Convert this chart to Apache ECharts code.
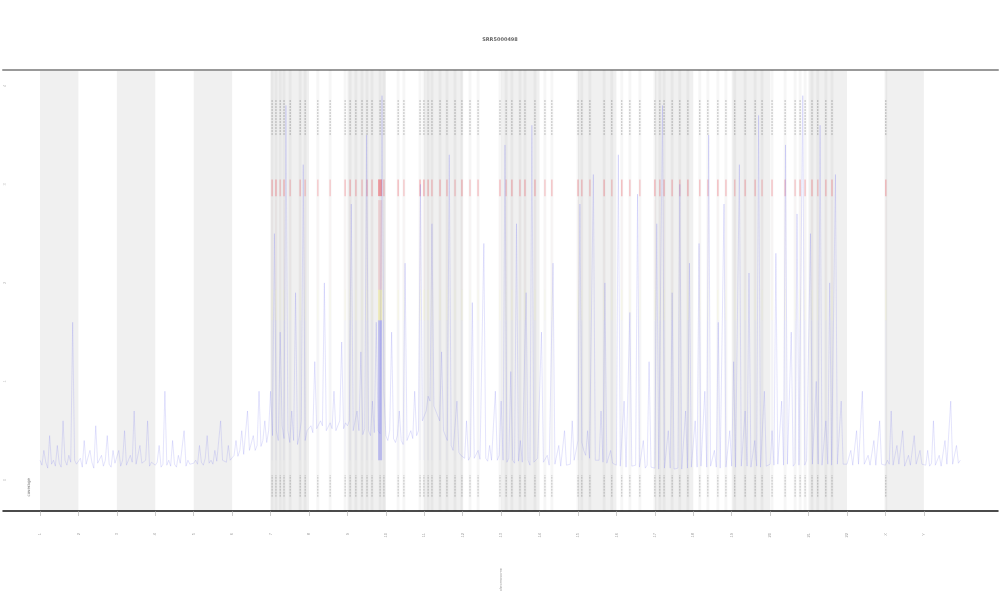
<!DOCTYPE html>
<html><head><meta charset="utf-8">
<script src="https://cdn.jsdelivr.net/npm/echarts@6/dist/echarts.min.js"></script>
<style>html,body{margin:0;padding:0;background:#fff}#c{width:1000px;height:600px}</style>
</head><body><div id="c"></div>
<script>
// chromosome labels (one per tick)
const chromLabels = ['1','2','3','4','5','6','7','8','9','10','11','12','13','14','15','16','17','18','19','20','21','22','X','Y'];
const yTickValues = [0, 1, 2, 3, 4];
const yTickLabels = ['0', '1', '2', '3', '4'];
// coverage trace, 20 samples per chromosome
const cov = [
 [0.2,0.15,0.3,0.18,0.12,0.45,0.16,0.2,0.14,0.35,0.17,0.13,0.6,0.2,0.15,0.25,0.18,1.6,0.2,0.16],
 [0.15,0.22,0.13,0.4,0.16,0.14,0.3,0.18,0.12,0.55,0.17,0.15,0.25,0.14,0.2,0.45,0.16,0.13,0.3,0.17],
 [0.16,0.3,0.14,0.2,0.5,0.15,0.13,0.25,0.18,0.7,0.16,0.14,0.35,0.17,0.15,0.2,0.6,0.14,0.18,0.16],
 [0.15,0.18,0.35,0.13,0.16,0.9,0.15,0.2,0.14,0.4,0.16,0.13,0.25,0.17,0.15,0.5,0.14,0.2,0.16,0.18],
 [0.17,0.2,0.16,0.35,0.18,0.15,0.22,0.45,0.17,0.2,0.16,0.3,0.19,0.18,0.6,0.2,0.22,0.18,0.35,0.2],
 [0.22,0.25,0.4,0.24,0.3,0.5,0.26,0.28,0.7,0.3,0.32,0.45,0.3,0.35,0.9,0.34,0.4,0.6,0.38,0.5],
 [0.9,0.45,2.5,0.5,0.4,1.5,0.55,0.42,3.8,0.5,0.38,0.7,0.4,1.9,0.36,0.45,0.6,3.2,0.4,0.5],
 [0.5,0.55,0.48,1.2,0.52,0.5,0.6,0.55,2.0,0.5,0.48,0.58,0.52,0.9,0.5,0.55,0.6,1.4,0.52,0.58],
 [0.55,0.6,2.8,0.5,0.48,0.7,0.5,1.3,0.46,0.52,3.5,0.5,0.45,0.8,0.48,1.6,0.5,0.47,3.9,0.9],
 [0.45,0.4,0.5,1.5,0.42,0.38,0.45,0.7,0.4,0.36,2.2,0.4,0.38,0.5,0.42,0.9,0.45,0.5,3.0,0.6],
 [0.6,0.7,0.85,0.8,2.6,0.75,0.7,0.65,0.6,1.3,0.5,0.45,0.4,3.3,0.35,0.3,0.32,0.8,0.28,0.25],
 [0.25,0.22,0.6,0.2,0.24,1.8,0.22,0.2,0.3,0.21,0.2,2.4,0.22,0.19,0.35,0.2,0.22,0.9,0.2,0.25],
 [0.8,0.2,3.4,0.18,0.22,1.1,0.2,0.17,2.6,0.19,0.4,0.18,0.16,1.9,0.2,0.15,3.6,0.18,0.2,0.22],
 [0.2,1.5,0.18,0.16,0.25,0.15,0.14,2.2,0.16,0.18,0.35,0.14,0.13,0.5,0.15,0.14,0.16,0.6,0.2,0.3],
 [0.4,2.8,0.38,0.3,0.25,0.5,0.22,0.2,3.1,0.2,0.18,0.2,0.7,0.18,2.0,0.17,0.19,0.3,0.17,0.16],
 [0.15,3.3,0.14,0.16,0.8,0.13,0.15,1.7,0.14,0.12,0.15,2.9,0.13,0.14,0.4,0.12,0.15,1.2,0.13,0.14],
 [0.12,2.6,0.11,0.13,3.8,0.12,0.1,0.5,0.12,1.9,0.11,0.13,0.12,3.0,0.11,0.1,0.7,0.12,2.2,0.13],
 [0.14,0.6,0.13,2.4,0.14,0.12,0.9,0.13,3.5,0.14,0.12,0.3,0.13,1.6,0.12,0.14,2.8,0.13,0.15,0.5],
 [0.14,1.2,0.13,0.15,3.2,0.14,0.13,0.7,0.14,2.1,0.13,0.15,0.4,0.14,3.7,0.13,0.15,0.9,0.14,0.16],
 [0.16,0.5,0.15,2.3,0.16,0.14,0.8,0.15,3.4,0.16,0.15,1.5,0.14,0.17,2.7,0.15,0.16,3.9,0.15,0.2],
 [0.18,2.5,0.16,0.15,1.0,0.16,3.6,0.15,0.17,0.6,0.16,2.0,0.15,0.17,3.1,0.16,0.15,0.8,0.16,0.17],
 [0.16,0.18,0.3,0.15,0.17,0.5,0.16,0.15,0.9,0.16,0.17,0.25,0.15,0.16,0.4,0.15,0.17,0.6,0.16,0.15],
 [0.15,0.2,0.16,0.7,0.15,0.14,0.35,0.16,0.15,0.5,0.14,0.16,0.25,0.15,0.14,0.45,0.16,0.15,0.3,0.16],
 [0.16,0.15,0.3,0.14,0.17,0.6,0.15,0.16,0.25,0.14,0.15,0.4,0.16,0.15,0.8,0.16,0.14,0.35,0.17,0.2]
];
// event positions (genome units) and strength
const eventPos = [6.04,6.14,6.25,6.35,6.51,6.77,6.90,7.23,7.55,7.94,8.07,8.22,8.38,8.51,8.64,8.85,8.95,9.32,9.47,9.89,9.99,10.10,10.20,10.41,10.59,10.80,10.98,11.19,11.40,11.97,12.13,12.28,12.49,12.62,12.88,13.14,13.32,14.00,14.10,14.31,14.68,14.88,15.14,15.35,15.61,16.00,16.13,16.24,16.45,16.65,16.86,17.17,17.38,17.64,17.85,18.08,18.35,18.61,18.79,19.05,19.39,19.65,19.78,19.91,20.09,20.24,20.45,20.61,22.01];
const eventStrength = [0.5,0.6,0.3,0.5,0.3,0.4,0.3,0.3,0.3,0.4,0.5,0.4,0.3,0.5,0.4,1.0,0.4,0.5,0.3,0.6,0.6,0.5,0.4,0.5,0.4,0.3,0.5,0.3,0.4,0.5,0.3,0.5,0.4,0.5,0.5,0.3,0.4,0.5,0.4,0.3,0.5,0.3,0.5,0.4,0.3,0.5,0.4,0.5,0.4,0.3,0.5,0.4,0.3,0.5,0.4,0.3,0.4,0.4,0.3,0.4,0.4,0.3,0.5,0.4,0.5,0.3,0.4,0.5,0.5];
// segment value ranges (log scale units)
const segBlue = [0.2, 1.62], segYellow = [1.62, 1.93], segPink = [1.93, 2.84], segRed = [2.88, 3.05];
const rugTop = [3.5, 3.86], rugBottom = [-0.17, 0.05];

const nChrom = chromLabels.length;
const bands = [];
for (let i = 0; i < nChrom; i += 2) bands.push([i, i + 1]);
const covData = [];
cov.forEach((arr, c) => arr.forEach((v, j) => covData.push([c + j / arr.length, v])));
const eventData = eventPos.map((p, i) => [p, eventStrength[i]]);
const tickVals = chromLabels.map((_, i) => i);

const chart = echarts.init(document.getElementById('c'), null, {renderer: 'canvas'});
const XMIN = -0.963, XMAX = 24.93, YMIN = -0.315, YMAX = 4.16;

function rectFor(api, x, w, y0, y1, fill) {
  const p0 = api.coord([x, y1]), p1 = api.coord([x, y0]);
  return {type: 'rect', shape: {x: p0[0] - w / 2, y: p0[1], width: w, height: p1[1] - p0[1]}, style: {fill: fill}};
}

chart.setOption({
  animation: false,
  title: {text: 'SRR5000498', left: 'center', top: 32, textStyle: {fontSize: 5, color: '#666', fontWeight: 'bold', fontFamily: 'DejaVu Sans'}},
  grid: {left: 3, right: 2, top: 70, bottom: 89, containLabel: false, outerBoundsMode: 'none'},
  graphic: [{type: 'text', left: 27, top: 478, rotation: Math.PI / 2, style: {text: 'coverage', fontSize: 4, fill: '#666', fontFamily: 'DejaVu Sans'}}],
  xAxis: [{
    type: 'value', min: XMIN, max: XMAX, position: 'bottom',
    axisLine: {show: true, onZero: false, lineStyle: {color: '#111', width: 1.5}},
    axisTick: {show: true, customValues: tickVals, length: 5, lineStyle: {color: '#aaa', width: 0.6}},
    axisLabel: {customValues: tickVals, rotate: 90, fontSize: 4, color: '#999', margin: 22, formatter: v => chromLabels[Math.round(v)] || ''},
    splitLine: {show: false},
    name: 'chromosome', nameLocation: 'middle', nameGap: 57, nameRotate: 90, nameTextStyle: {fontSize: 4, color: '#999'}
  }, {
    type: 'value', min: XMIN, max: XMAX, position: 'top',
    axisLine: {show: true, onZero: false, lineStyle: {color: '#999', width: 2}},
    axisTick: {show: false}, axisLabel: {show: false}, splitLine: {show: false}
  }],
  yAxis: {
    type: 'value', min: YMIN, max: YMAX,
    axisLine: {show: false}, axisTick: {show: false}, splitLine: {show: false},
    axisLabel: {customValues: yTickValues, inside: true, margin: 0, rotate: 90, fontSize: 4, color: '#bbb', formatter: v => yTickLabels[yTickValues.indexOf(v)]},
    name: 'log2 depth', nameLocation: 'middle', nameGap: -6, nameRotate: 90, nameTextStyle: {fontSize: 4, color: '#bbb'}
  },
  series: [
    {
      type: 'custom', name: 'bands', silent: true, z: 0,
      data: bands,
      renderItem: (params, api) => {
        const a = api.coord([api.value(0), YMAX]), b = api.coord([api.value(1), YMIN]);
        return {type: 'rect', shape: {x: a[0], y: a[1], width: b[0] - a[0], height: b[1] - a[1]}, style: {fill: '#f0f0f0'}};
      }
    },
    {
      type: 'custom', name: 'events', silent: true, z: 1,
      data: eventData,
      renderItem: (params, api) => {
        const x = api.value(0), s = api.value(1);
        const w = s >= 1 ? 4 : 1.5;
        return {type: 'group', children: [
          rectFor(api, x, 3, YMIN, YMAX, 'rgba(0,0,0,0.035)'),
          rectFor(api, x, w, segBlue[0], segBlue[1], 'rgba(110,110,240,' + (0.08 * s + (s >= 1 ? 0.3 : 0)) + ')'),
          rectFor(api, x, w, segYellow[0], segYellow[1], 'rgba(240,230,110,' + (0.2 * s + (s >= 1 ? 0.2 : 0)) + ')'),
          rectFor(api, x, w, segPink[0], segPink[1], 'rgba(235,120,130,' + (0.08 * s + (s >= 1 ? 0.15 : 0)) + ')'),
          rectFor(api, x, w, segRed[0], segRed[1], 'rgba(235,70,80,' + (0.15 + 0.35 * s) + ')'),
          {type: 'line', shape: {x1: api.coord([x, rugTop[0]])[0], y1: api.coord([x, rugTop[0]])[1], x2: api.coord([x, rugTop[1]])[0], y2: api.coord([x, rugTop[1]])[1]}, style: {stroke: 'rgba(0,0,0,0.4)', lineWidth: 0.6, lineDash: [2, 1]}},
          {type: 'line', shape: {x1: api.coord([x, rugBottom[0]])[0], y1: api.coord([x, rugBottom[0]])[1], x2: api.coord([x, rugBottom[1]])[0], y2: api.coord([x, rugBottom[1]])[1]}, style: {stroke: 'rgba(0,0,0,0.4)', lineWidth: 0.6, lineDash: [2, 1]}}
        ]};
      }
    },
    {
      type: 'line', name: 'coverage', data: covData, showSymbol: false, z: 3,
      lineStyle: {color: 'rgba(100,100,235,0.22)', width: 0.8}
    }
  ]
});
</script></body></html>
